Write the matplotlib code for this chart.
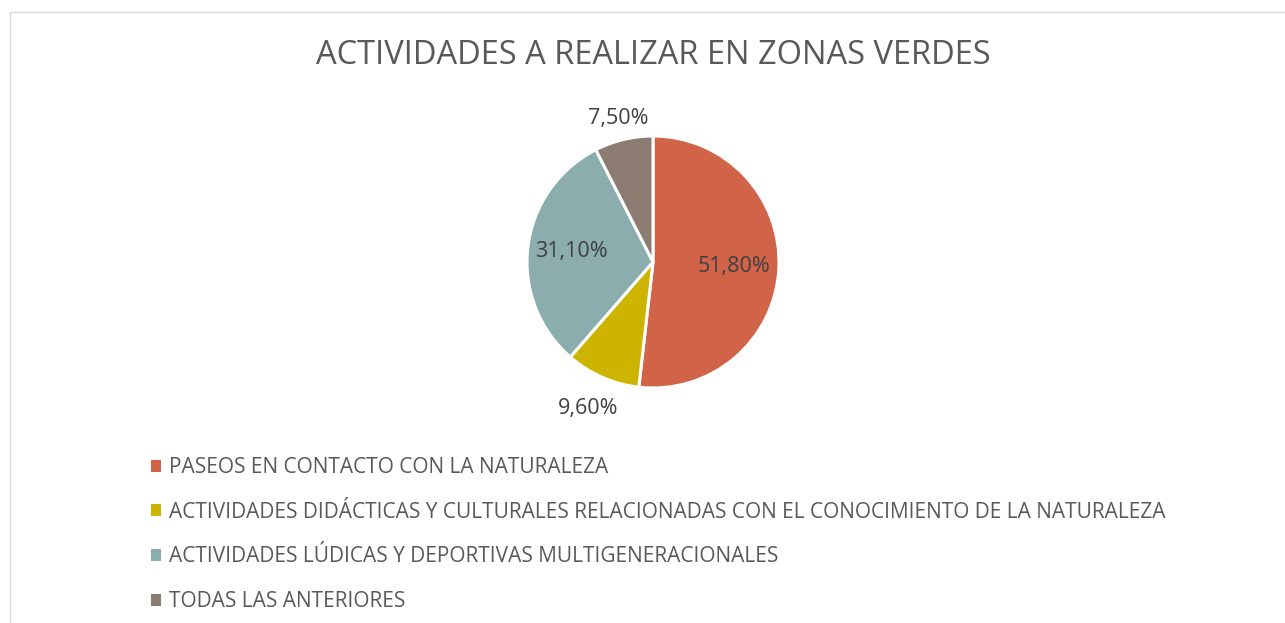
import matplotlib
matplotlib.use("Agg")
import matplotlib.pyplot as plt
from matplotlib.patches import Rectangle
import numpy as np

categories = [
    "PASEOS EN CONTACTO CON LA NATURALEZA",
    "ACTIVIDADES DIDÁCTICAS Y CULTURALES RELACIONADAS CON EL CONOCIMIENTO DE LA NATURALEZA",
    "ACTIVIDADES LÚDICAS Y DEPORTIVAS MULTIGENERACIONALES",
    "TODAS LAS ANTERIORES",
]
values = [51.8, 9.6, 31.1, 7.5]
value_labels = ["51,80%", "9,60%", "31,10%", "7,50%"]
colors = ["#D16349", "#CCB400", "#8CADAE", "#8C7B70"]

plt.rcParams['font.family'] = ['Open Sans', 'DejaVu Sans']
W, H = 1285, 623
fig = plt.figure(figsize=(W / 100, H / 100), dpi=100)
fig.patch.set_facecolor("white")

# chart border (top and left visible)
fig.patches.append(Rectangle((10 / W, -0.1), 1.2, (H - 12) / H + 0.1,
                             transform=fig.transFigure, fill=False,
                             edgecolor="#D9D9D9", linewidth=1.0))

fig.text(653.5 / W, 1 - 56 / H, "ACTIVIDADES A REALIZAR EN ZONAS VERDES",
         ha="center", va="center", fontsize=23.5, color="#595959")

cx, cy, r = 653, 262, 126
ax = fig.add_axes([(cx - r) / W, (H - cy - r) / H, 2 * r / W, 2 * r / H])
wedges, _ = ax.pie(values, colors=colors, startangle=90, counterclock=False,
                   radius=1.0,
                   wedgeprops=dict(edgecolor="white", linewidth=2.2))
ax.set_xlim(-1, 1)
ax.set_ylim(-1, 1)
ax.set_aspect("equal")
ax.axis("off")

label_r = [0.64, 1.27, 0.65, 1.17]
for w, lab, lr in zip(wedges, value_labels, label_r):
    ang = np.deg2rad((w.theta1 + w.theta2) / 2)
    ax.text(lr * np.cos(ang), lr * np.sin(ang), lab, ha="center", va="center",
            fontsize=15.5, color="#404040", clip_on=False)

leg = fig.legend(wedges, categories, loc="upper left",
                 bbox_to_anchor=(151 / W, 1 - 457 / H),
                 frameon=False, fontsize=15, labelcolor="#595959",
                 handlelength=0.5, handleheight=0.5, handletextpad=0.36,
                 labelspacing=1.14, borderpad=0, borderaxespad=0)
for h in leg.legend_handles:
    h.set_edgecolor("none")

fig.savefig("out.png", dpi=100, facecolor="white")
